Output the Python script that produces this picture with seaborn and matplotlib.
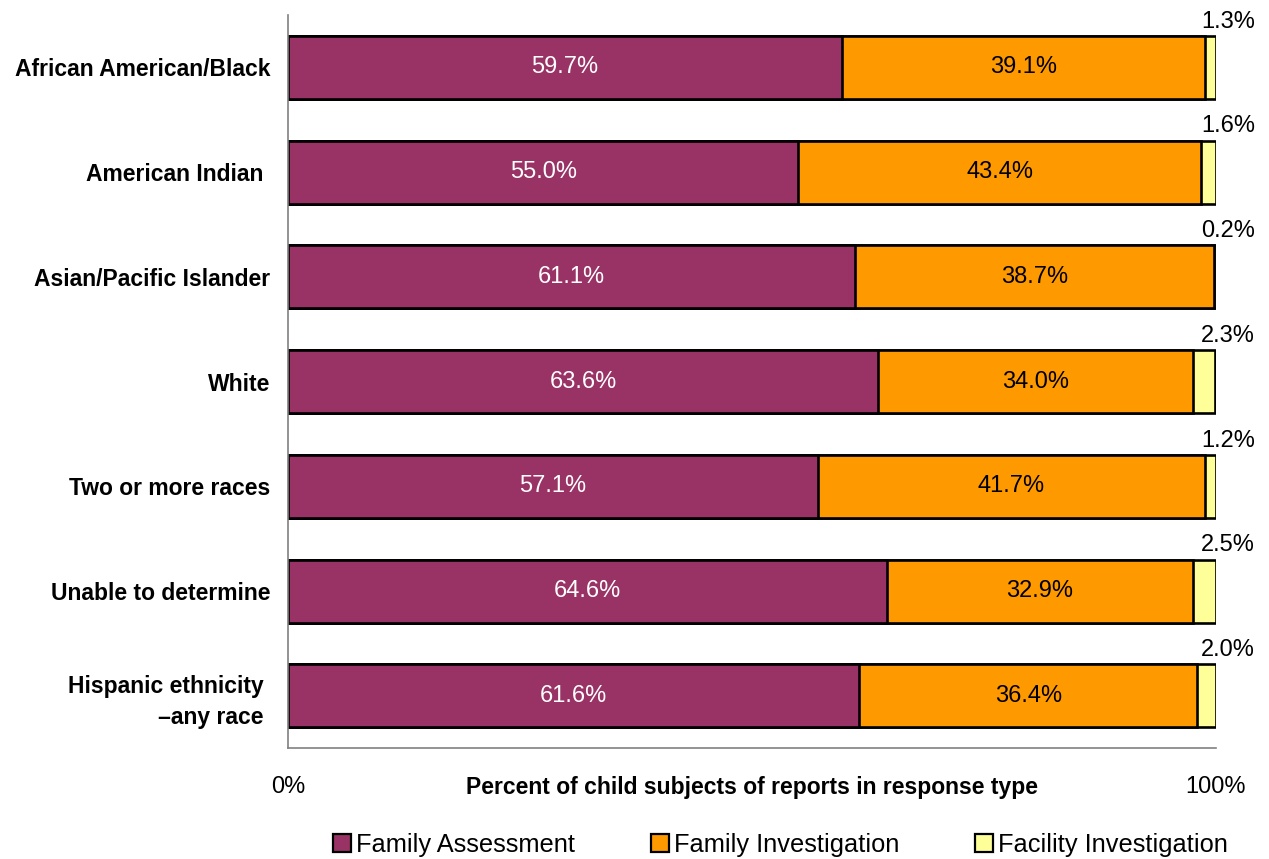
import pandas as pd
import matplotlib.pyplot as plt
import seaborn as sns
from matplotlib.patches import Patch

# ---------- DATA ----------
categories = ["African American/Black", "American Indian ", "Asian/Pacific Islander",
              "White", "Two or more races", "Unable to determine",
              "Hispanic ethnicity \n\u2013any race "]
family_assessment = [59.7, 55.0, 61.1, 63.6, 57.1, 64.6, 61.6]
family_investigation = [39.1, 43.4, 38.7, 34.0, 41.7, 32.9, 36.4]
facility_investigation = [1.3, 1.6, 0.2, 2.3, 1.2, 2.5, 2.0]
series_names = ["Family Assessment", "Family Investigation", "Facility Investigation"]
colors = ["#993366", "#FF9900", "#FFFF99"]

df = pd.DataFrame({
    "category": categories,
    "fa": family_assessment,
    "fi": family_investigation,
    "fac": facility_investigation,
})
# cumulative ends for the stacked look (normalised to 100)
df["end_fi"] = df["fa"] + df["fi"]
df["end_fac"] = (df["end_fi"] + df["fac"]).clip(upper=100)

sns.set_theme(style="white")
plt.rcParams["font.family"] = ["Liberation Sans", "DejaVu Sans"]
plt.rcParams.update({"text.color": "black", "axes.labelcolor": "black",
                     "xtick.labelcolor": "black", "ytick.labelcolor": "black"})

fig = plt.figure(figsize=(12.69, 8.59), dpi=100)
ax = fig.add_axes([0.227, 0.129, 0.731, 0.8535])

bar_kw = dict(orient="h", width=0.6, edgecolor="black", linewidth=1.9,
              saturation=1, ax=ax)
sns.barplot(data=df, x="end_fac", y="category", color=colors[2], **bar_kw)
sns.barplot(data=df, x="end_fi", y="category", color=colors[1], **bar_kw)
sns.barplot(data=df, x="fa", y="category", color=colors[0], **bar_kw)

# ---------- LABELS ----------
for i, row in df.iterrows():
    ax.text(row["fa"] / 2, i, f"{row['fa']:.1f}%", ha="center", va="center",
            color="white", fontsize=17)
    ax.text(row["fa"] + row["fi"] / 2, i, f"{row['fi']:.1f}%", ha="center",
            va="center", color="black", fontsize=17)
    ax.text(101.3, i - 0.38, f"{row['fac']:.1f}%", ha="center", va="baseline",
            color="black", fontsize=17)

# ---------- AXES ----------
ax.set_xlim(0, 100)
ax.set_ylim(6.5, -0.5)
ax.set_xticks([0, 100])
ax.set_xticklabels(["0%", "100%"], fontsize=17)
ax.set_yticks(range(len(categories)))
ax.set_yticklabels(categories, fontsize=16.5, fontweight="bold",
                   multialignment="right", linespacing=1.4)
ax.set_yticks([i - 0.5 for i in range(len(categories) + 1)], minor=True)
ax.tick_params(axis="y", which="major", length=0, pad=13)
ax.tick_params(axis="y", which="minor", length=7, width=1, color="#808080", direction="out")
ax.tick_params(axis="x", length=7, width=1, color="#808080", direction="out", pad=13)
ax.set_ylabel("")
ax.set_xlabel("Percent of child subjects of reports in response type",
              fontsize=16.5, fontweight="bold")
ax.xaxis.set_label_coords(0.5, -0.038)

for side in ["top", "right"]:
    ax.spines[side].set_visible(False)
for side in ["left", "bottom"]:
    ax.spines[side].set_color("#808080")
    ax.spines[side].set_linewidth(1.2)

handles = [Patch(facecolor=c, edgecolor="black", linewidth=1.6) for c in colors]
fig.legend(handles, series_names, loc="center", bbox_to_anchor=(0.615, 0.016),
           ncol=3, frameon=False, fontsize=18.3, handlelength=0.7, handleheight=0.7,
           handletextpad=0.2, columnspacing=3.0)

plt.savefig("out.png", dpi=100)
